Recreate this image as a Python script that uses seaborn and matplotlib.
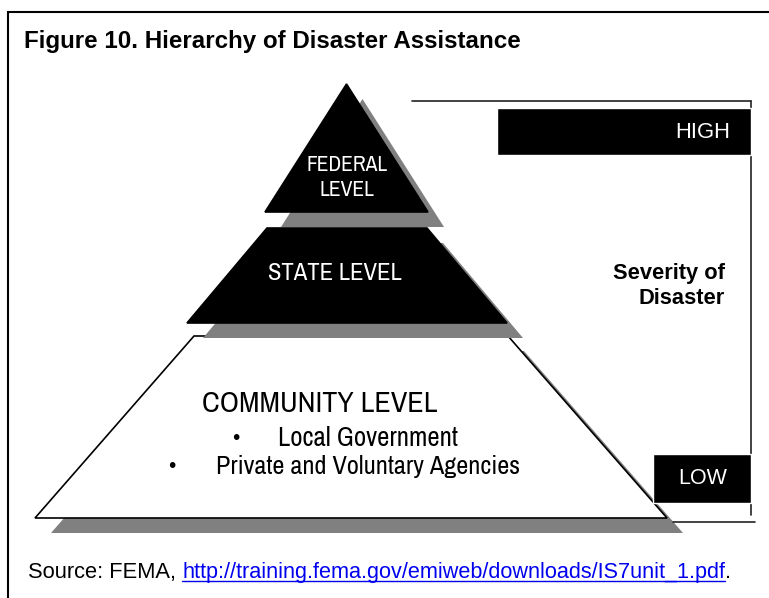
import matplotlib
matplotlib.use("Agg")
import matplotlib.pyplot as plt
from matplotlib.patches import Polygon, Rectangle
import seaborn as sns

# ------------------------------------------
# Diagram content
# ------------------------------------------

title = "Figure 10. Hierarchy of Disaster Assistance"
level_names = ["FEDERAL\nLEVEL", "STATE LEVEL", "COMMUNITY LEVEL"]
community_members = ["Local Government", "Private and Voluntary Agencies"]
severity_labels = ["HIGH", "LOW"]
severity_title = "Severity of\nDisaster"
source_text = "Source: FEMA, "
source_link = "http://training.fema.gov/emiweb/downloads/IS7unit_1.pdf"

# ------------------------------------------
# Layout (pixel space of the 769 x 598 picture)
# ------------------------------------------

# tier: centre x, top y, bottom y, top half width, bottom half width
tiers = [
    (346.5, 84, 212, 0, 81.5),
    (347, 228, 323, 80, 160),
    (351, 336, 518, 157, 316),
]
tier_fill = ["black", "black", "white"]
shadow_dx, shadow_dy = 16, 15

ARIAL = ["Liberation Sans", "DejaVu Sans"]
NARROW = ["Archivo Narrow", "Liberation Sans", "DejaVu Sans"]

sns.set_theme(style="white")
plt.rcParams["font.family"] = ARIAL
plt.rcParams["text.color"] = "black"

fig = plt.figure(figsize=(7.69, 5.98), dpi=100)
ax = fig.add_axes([0, 0, 1, 1])
ax.set_xlim(0, 769)
ax.set_ylim(598, 0)
ax.axis("off")


def fit_width(t, width_px):
    # scale the font so the rendered text is width_px wide
    fig.canvas.draw()
    w = t.get_window_extent().width
    t.set_fontsize(t.get_fontsize() * width_px / w)
    return t


# outer frame
ax.plot([8, 8, 769], [598, 12, 12], color="black", lw=1.5, solid_joinstyle="miter")

fit_width(ax.text(24, 48, title, fontsize=18, fontweight="bold", ha="left",
                  va="baseline"), 498)


def tier_points(cx, top, bottom, htop, hbot, dx=0, dy=0):
    return [
        (cx - htop + dx, top + dy),
        (cx + htop + dx, top + dy),
        (cx + hbot + dx, bottom + dy),
        (cx - hbot + dx, bottom + dy),
    ]


# draw from bottom tier up so each shadow lies over the tier below
for (cx, top, bottom, htop, hbot), fill, z in zip(tiers[::-1], tier_fill[::-1], [2, 4, 6]):
    ax.add_patch(Polygon(tier_points(cx, top, bottom, htop, hbot, shadow_dx, shadow_dy),
                         closed=True, facecolor="#808080", edgecolor="none", zorder=z))
    ax.add_patch(Polygon(tier_points(cx, top, bottom, htop, hbot),
                         closed=True, facecolor=fill, edgecolor="black", lw=1.2,
                         zorder=z + 1))

# tier labels
fed1, fed2 = level_names[0].split("\n")
fit_width(ax.text(347, 165, fed1, color="white", fontsize=16, ha="center",
                  va="center", family=NARROW, zorder=10), 81)
fit_width(ax.text(347, 190, fed2, color="white", fontsize=16, ha="center",
                  va="center", family=NARROW, zorder=10), 55)
fit_width(ax.text(335, 273, level_names[1], color="white", fontsize=18, ha="center",
                  va="center", family=NARROW, zorder=10), 134)
fit_width(ax.text(319.5, 404, level_names[2], fontsize=22, ha="center",
                  va="center", family=NARROW, zorder=10), 235)

member_pos = [(236, 278, 439, 180), (172, 216, 467, 304)]
for member, (bx, tx, ty, w) in zip(community_members, member_pos):
    ax.text(bx, ty, "\u2022", fontsize=15, ha="center", va="center", zorder=10)
    fit_width(ax.text(tx, ty, member, fontsize=16, ha="left", va="center",
                      family=NARROW, zorder=10), w)

# severity bracket
line_kw = dict(color="#222222", lw=1.2, zorder=3)
ax.plot([412, 751], [101, 101], **line_kw)
ax.plot([751, 751], [101, 515], **line_kw)
ax.plot([673, 755], [522, 522], **line_kw)

ax.add_patch(Rectangle((497, 108), 254, 47, facecolor="black", zorder=8))
ax.add_patch(Rectangle((653, 454), 98, 49, facecolor="black", zorder=8))
fit_width(ax.text(702.5, 132, severity_labels[0], color="white", fontsize=16,
                  ha="center", va="center", zorder=10), 55)
fit_width(ax.text(702.5, 478, severity_labels[1], color="white", fontsize=16,
                  ha="center", va="center", zorder=10), 49)
fit_width(ax.text(725, 286, severity_title, fontsize=15.5, fontweight="bold",
                  ha="right", va="center", multialignment="right",
                  linespacing=1.25, zorder=10), 112)

# source line with underlined link
base_y = 578
t1 = fit_width(ax.text(28, base_y, source_text, fontsize=15.5, ha="left",
                       va="baseline"), 154)
inv = ax.transData.inverted()
x_link = inv.transform((t1.get_window_extent().x1, 0))[0]
t2 = fit_width(ax.text(x_link, base_y, source_link, fontsize=15.5, color="#0000ee",
                       ha="left", va="baseline"), 725 - x_link)
fig.canvas.draw()
x_end = inv.transform((t2.get_window_extent().x1, 0))[0]
ax.plot([x_link, x_end], [base_y + 2.5, base_y + 2.5], color="#0000ee", lw=1)
ax.text(x_end, base_y, ".", fontsize=t1.get_fontsize(), ha="left", va="baseline")

fig.savefig("out.png", dpi=100)
